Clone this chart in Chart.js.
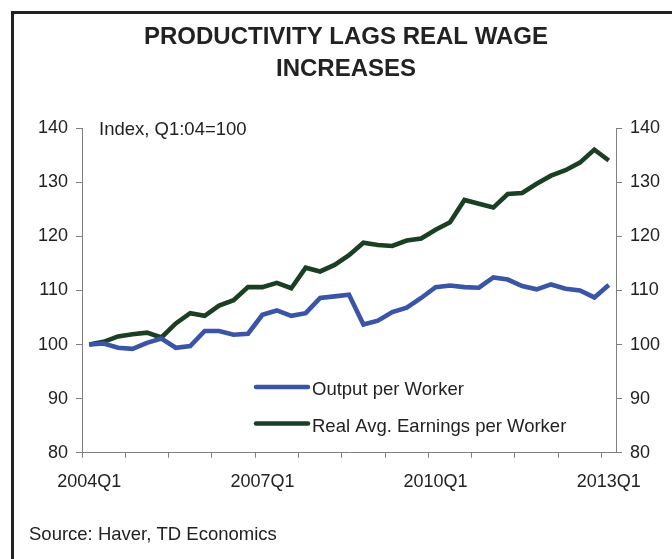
<!DOCTYPE html>
<html>
<head>
<meta charset="utf-8">
<script src="https://cdn.jsdelivr.net/npm/chart.js@4/dist/chart.umd.min.js"></script>
<style>
    html, body { margin: 0; padding: 0; background: #fff; }
    #wrap { position: relative; width: 672px; height: 559px; overflow: hidden; }
    #frame { position: absolute; left: 11px; top: 11px; width: 800px; height: 700px;
             border-left: 3px solid #222; border-top: 3px solid #222; pointer-events: none; }
</style>
</head>
<body>
<div id="wrap">
    <canvas id="chart" width="672" height="559"></canvas>
    <div id="frame"></div>
</div>
<script>
// quarterly index, Q1:04 = 100
const quarters = [
    '2004Q1', '2004Q2', '2004Q3', '2004Q4', '2005Q1', '2005Q2', '2005Q3', '2005Q4',
    '2006Q1', '2006Q2', '2006Q3', '2006Q4', '2007Q1', '2007Q2', '2007Q3', '2007Q4',
    '2008Q1', '2008Q2', '2008Q3', '2008Q4', '2009Q1', '2009Q2', '2009Q3', '2009Q4',
    '2010Q1', '2010Q2', '2010Q3', '2010Q4', '2011Q1', '2011Q2', '2011Q3', '2011Q4',
    '2012Q1', '2012Q2', '2012Q3', '2012Q4', '2013Q1'
];
const outputPerWorker = [
    100.0, 100.2, 99.4, 99.2, 100.3, 101.1, 99.4, 99.7, 102.5, 102.5, 101.8, 102.0,
    105.5, 106.3, 105.3, 105.8, 108.6, 108.9, 109.2, 103.7, 104.4, 106.0, 106.8, 108.6,
    110.6, 110.9, 110.6, 110.5, 112.4, 112.0, 110.8, 110.2, 111.1, 110.3, 110.0, 108.7,
    111.0
];
const realEarnings = [
    100.0, 100.5, 101.5, 101.9, 102.2, 101.3, 103.9, 105.8, 105.3, 107.2, 108.2, 110.6,
    110.6, 111.4, 110.4, 114.2, 113.5, 114.7, 116.5, 118.8, 118.4, 118.2, 119.2, 119.6,
    121.2, 122.6, 126.7, 126.0, 125.3, 127.8, 128.0, 129.7, 131.2, 132.2, 133.6, 136.0,
    134.0
];
const seriesNames = ['Output per Worker', 'Real Avg. Earnings per Worker'];
const seriesColors = ['#3a55a8', '#1b3f22'];
const yMin = 80, yMax = 140, yStep = 10;

const textColor = '#222';
const axisColor = '#808080';
Chart.defaults.font.family = "'Liberation Sans', Arial, sans-serif";
Chart.defaults.font.size = 18;
Chart.defaults.color = textColor;

// legend inside the plot + index note
const innerText = {
    id: 'innerText',
    afterDraw: (chart) => {
        const ctx = chart.ctx;
        const area = chart.chartArea;
        ctx.save();
        ctx.font = "18.5px 'Liberation Sans', Arial, sans-serif";
        ctx.fillStyle = textColor;
        ctx.textBaseline = 'middle';
        ctx.fillText('Index, Q1:04=100', area.left + 17, area.top + 2);

        chart.data.datasets.forEach((ds, i) => {
            const y = area.top + 259 + i * 36.5;
            ctx.strokeStyle = ds.borderColor;
            ctx.lineWidth = 4.5;
            ctx.lineCap = 'round';
            ctx.beginPath();
            ctx.moveTo(area.left + 174, y);
            ctx.lineTo(area.left + 226, y);
            ctx.stroke();
            ctx.fillText(ds.label, area.left + 230, y + 3);
        });
        ctx.restore();
    }
};

const yAxis = (pos, width) => ({
    position: pos,
    min: yMin,
    max: yMax,
    ticks: { stepSize: yStep, padding: 8, color: textColor },
    grid: { drawOnChartArea: false, tickLength: 6, color: axisColor },
    border: { color: axisColor },
    afterFit: (s) => { s.width = width; }
});

new Chart(document.getElementById('chart'), {
    type: 'line',
    data: {
        labels: quarters,
        datasets: [outputPerWorker, realEarnings].map((vals, i) => ({
            label: seriesNames[i],
            data: vals,
            borderColor: seriesColors[i],
            backgroundColor: seriesColors[i],
            borderWidth: 4.6,
            pointRadius: 0,
            tension: 0,
            yAxisID: 'y'
        }))
    },
    plugins: [innerText],
    options: {
        responsive: false,
        animation: false,
        layout: { padding: { left: 29, right: 9, top: 14, bottom: 10 } },
        scales: {
            x: {
                offset: true,
                ticks: {
                    autoSkip: false,
                    maxRotation: 0,
                    padding: 13,
                    color: textColor,
                    callback: (v, i) => (i % 12 === 0 ? quarters[i] : '')
                },
                grid: {
                    offset: true,
                    drawOnChartArea: false,
                    tickLength: 5,
                    color: (c) => (c.index % 3 === 0 ? axisColor : 'rgba(0,0,0,0)')
                },
                border: { color: axisColor },
                afterFit: (s) => { s.height = 40; }
            },
            y: yAxis('left', 53),
            y2: yAxis('right', 47)
        },
        plugins: {
            legend: { display: false },
            tooltip: { enabled: false },
            title: {
                display: true,
                text: ['PRODUCTIVITY LAGS REAL WAGE', 'INCREASES'],
                font: { size: 24, weight: 'bold', lineHeight: 32 / 24 },
                color: textColor,
                padding: { top: 7, bottom: 43 }
            },
            subtitle: {
                display: true,
                position: 'bottom',
                align: 'start',
                text: 'Source: Haver, TD Economics',
                font: { size: 18.5 },
                color: textColor,
                padding: { top: 31, bottom: 3 }
            }
        }
    }
});
</script>
</body>
</html>
